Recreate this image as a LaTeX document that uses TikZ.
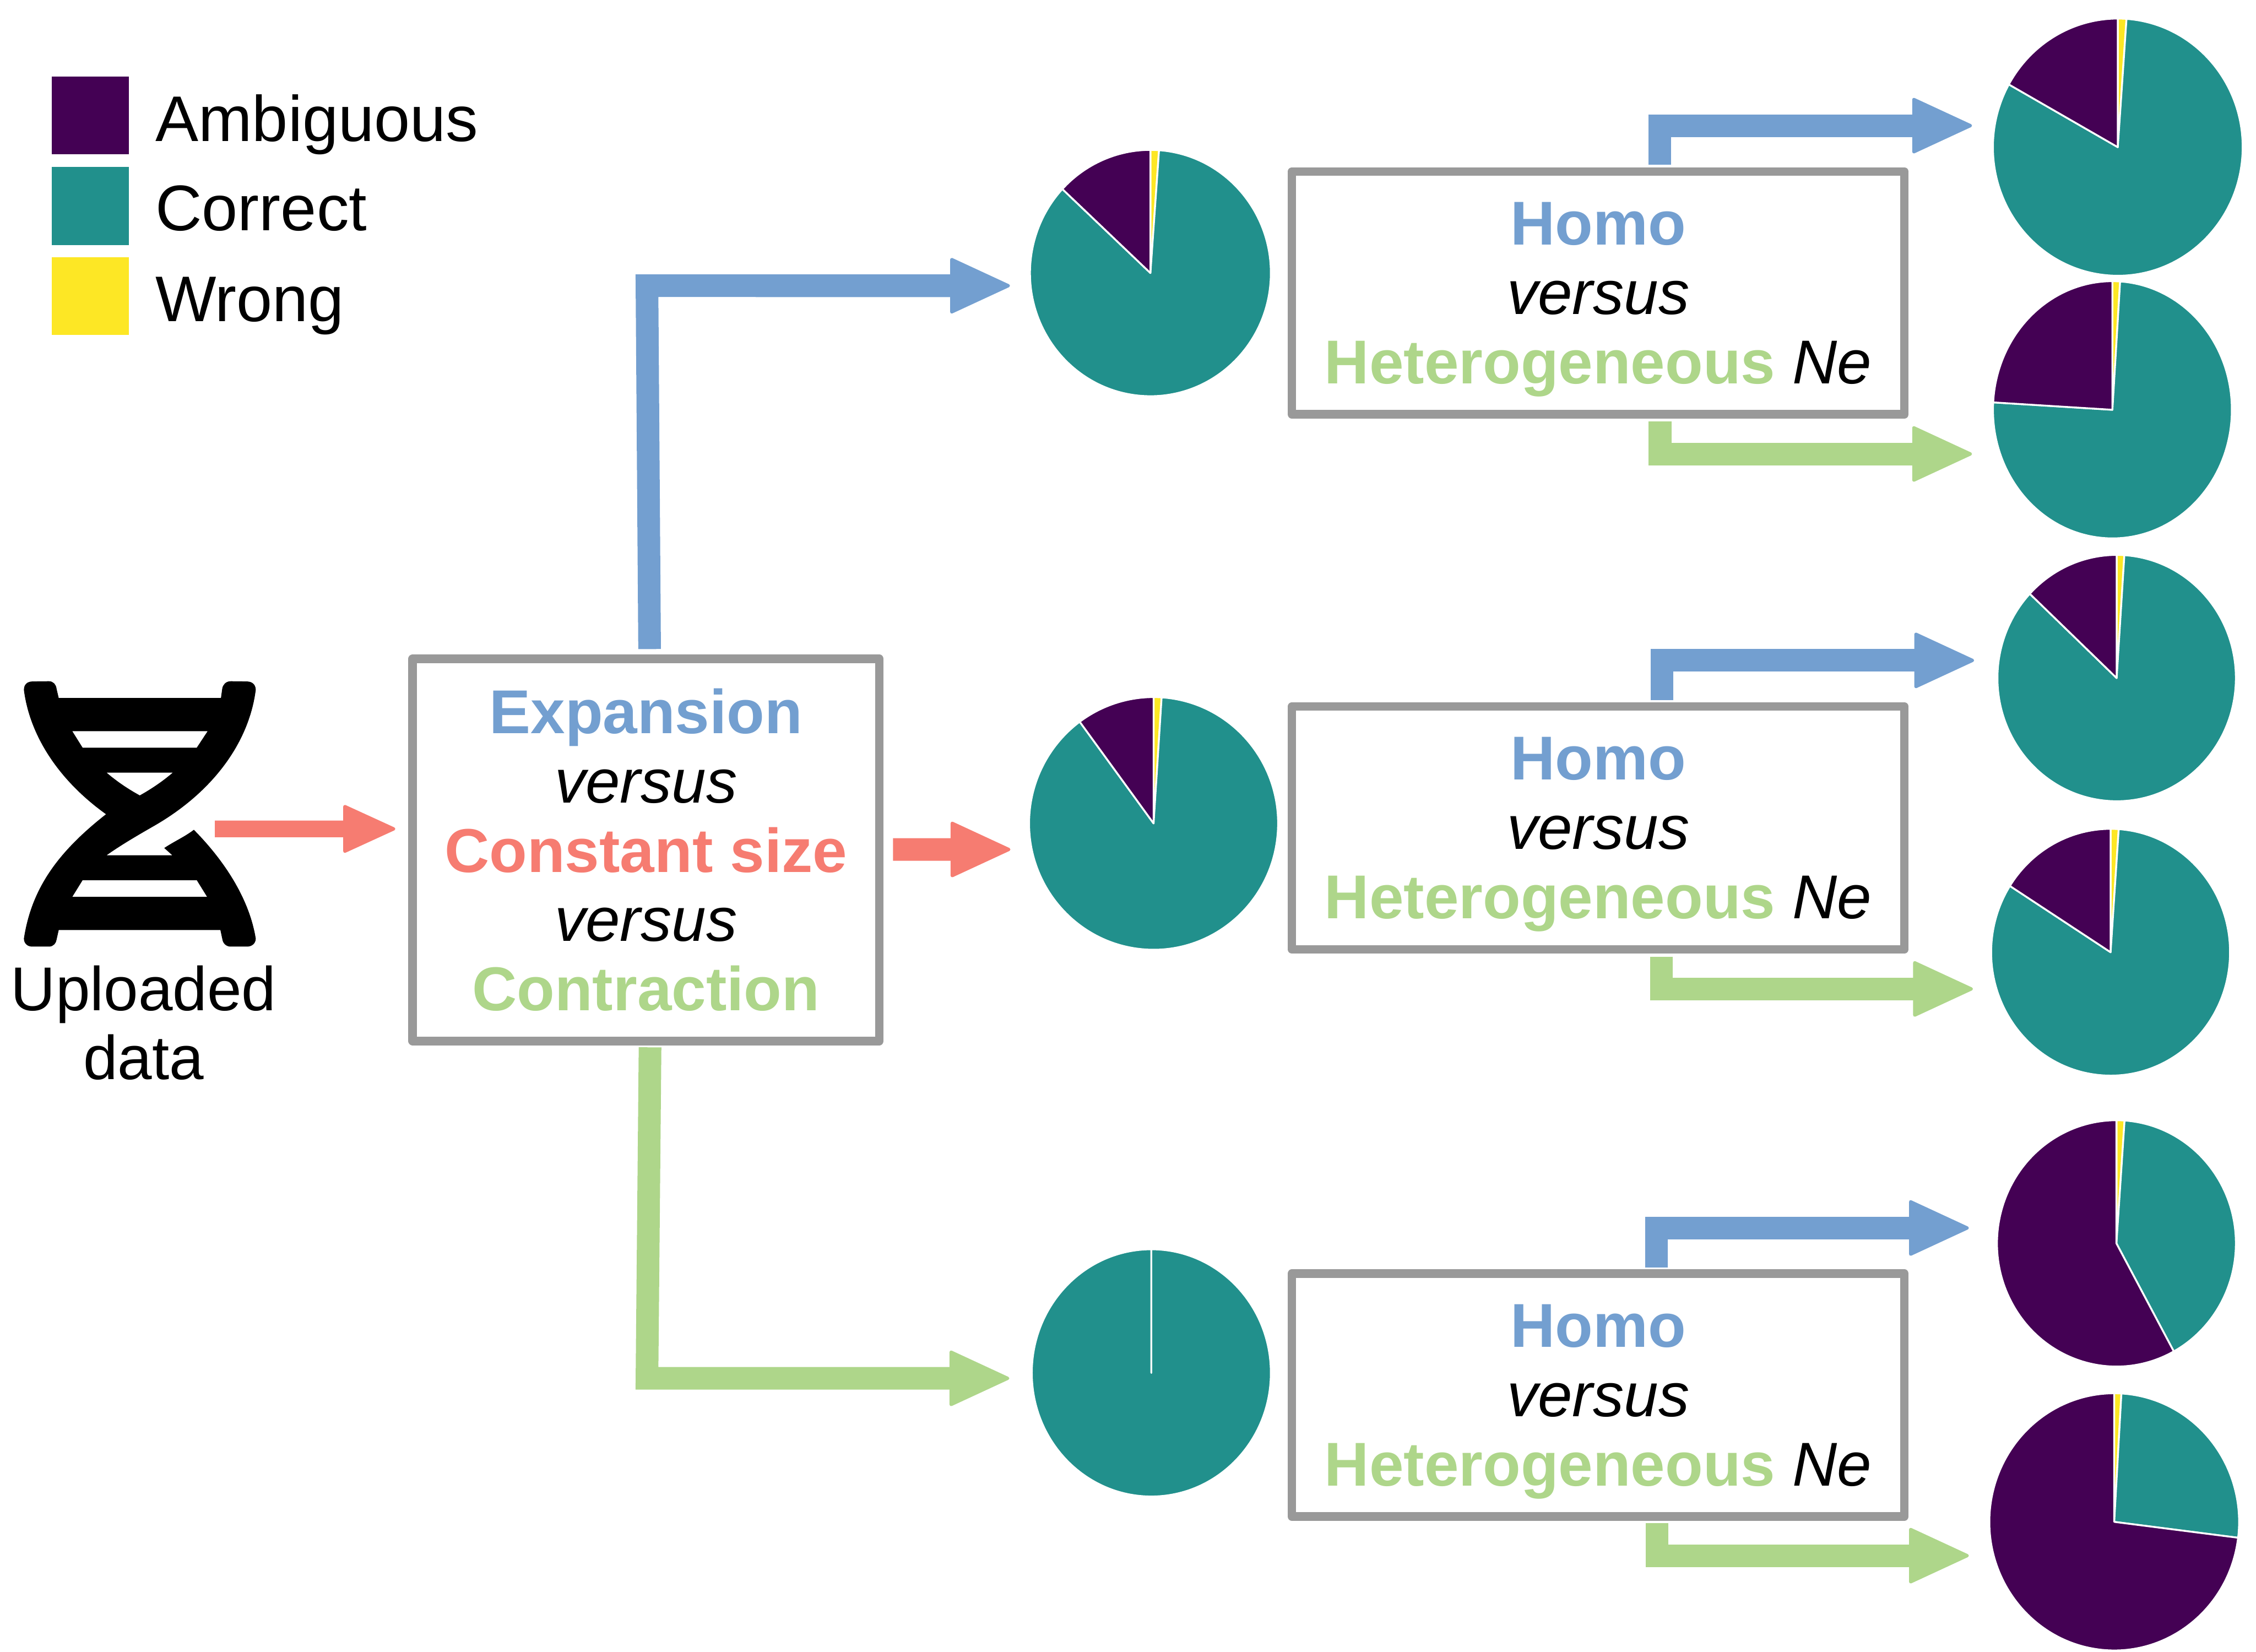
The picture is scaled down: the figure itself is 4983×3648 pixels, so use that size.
\documentclass[tikz,border=0pt]{standalone}
\usepackage{fontspec}
\setmainfont{Liberation Sans}
\usetikzlibrary{shapes.geometric,arrows.meta,positioning,calc}

\definecolor{ambiguous}{HTML}{440154}
\definecolor{correct}{HTML}{21908C}
\definecolor{wrong}{HTML}{FDE725}
\definecolor{expblue}{HTML}{739FD0}
\definecolor{conred}{HTML}{F67C71}
\definecolor{ctrgreen}{HTML}{AED68A}
\definecolor{boxgray}{HTML}{999999}

\tikzset{
  boxtext/.style={font=\fontsize{38.9}{43.5}\selectfont, align=center, inner sep=0pt, outer sep=0pt},
  keytext/.style={font=\fontsize{40.5}{45}\selectfont, inner sep=0pt, outer sep=0pt, anchor=base west},
  testbox/.style={draw=boxgray, line width=.19cm, line join=round, minimum height=5.36cm, minimum width=13.52cm},
  swatch/.style={inner sep=0pt, outer sep=0pt, minimum width=1.705cm, minimum height=1.72cm},
  piebase/.style={ellipse, inner sep=0pt, outer sep=0pt},
  slice/.style={draw=white, line width=.04cm, line join=round},
  branch/.style={line width=.5cm, line join=miter, -{Triangle[length=1.37cm,width=1.25cm,line width=.07cm,round]}},
  smallbranch/.style={line width=.37cm, -{Triangle[length=1.2cm,width=1.08cm,line width=.07cm,round]}}
}

\begin{document}
\begin{tikzpicture}[x=.01cm,y=-.01cm]
  \useasboundingbox (0,0) rectangle (4983,3648);

  % Legend
  \foreach \name/\y/\base/\col/\txt in {amb/255/311.6/ambiguous/Ambiguous, cor/455/509/correct/Correct, wro/654/709.4/wrong/Wrong}{
    \node[swatch, fill=\col] (key\name) at (199.5,\y) {};
    \node[keytext] (keytext\name) at (343.5,\base) {\txt};
  }

  % Helix icon
  \fill[black, even odd rule] (52.8,1523.7) .. controls (52.8,1512) and (60,1505) .. (71.8,1505)
    -- (108,1504.5) .. controls (118,1504.5) and (124,1512) .. (125,1521.4) -- (129.7,1541.5) -- (488,1541.5) -- (490.8,1521.4)
    .. controls (492,1512) and (499,1504.5) .. (509.8,1504.5) -- (545.3,1505) .. controls (557,1505) and (564.9,1512) .. (564.9,1523.7)
    .. controls (550,1640) and (470,1750) .. (338.6,1825) .. controls (295,1850) and (265,1868) .. (235.4,1888.8)
    -- (380.6,1888.8) -- (362.8,1872.8) .. controls (385,1858) and (408,1848) .. (428.2,1832.6)
    .. controls (490,1895) and (550,1980) .. (564.9,2072.8) .. controls (564.9,2083) and (557,2090.6) .. (545.3,2090.6) -- (509.8,2090.6)
    .. controls (499,2090.6) and (492,2083) .. (490.8,2072.8) -- (486.8,2054) -- (129.7,2054) -- (125,2075)
    .. controls (124,2083) and (118,2090.6) .. (108,2090.6) -- (71.8,2090.6) .. controls (60,2090.6) and (52.8,2083) .. (52.8,2072.8)
    .. controls (70,1960) and (130,1880) .. (234.2,1798.2) .. controls (125,1720) and (65,1620) .. (52.8,1523.7) -- cycle
    (159.6,1614.7) -- (458.7,1614.7) -- (434.6,1651.3) -- (182.5,1651.3) -- cycle
    (235.4,1706.3) -- (381.7,1706.3) .. controls (360,1725) and (335,1742) .. (308.8,1756.7) .. controls (282,1742) and (257,1725) .. (235.4,1706.3) -- cycle
    (182.5,1943.8) -- (434.6,1943.8) -- (457.5,1980.8) -- (159.6,1980.8) -- cycle;
  \coordinate (helix) at (474.7,1830.6);
  \node[boxtext] (upload) at (317,2259) {Uploaded\\data};

  % Model choice
  \node[testbox, boxtext, minimum width=10.3cm, minimum height=8.435cm] (model) at (1426.8,1877) {\textcolor{expblue}{\textbf{Expansion}}\\\textit{versus}\\\textcolor{conred}{\textbf{Constant size}}\\\textit{versus}\\\textcolor{ctrgreen}{\textbf{Contraction}}};

  % Ne choice
  \foreach \name/\y in {homoexp/647, homocon/1828.5, homoctr/3081}{
    \node[testbox, boxtext] (\name) at (3530,\y) {\textcolor{expblue}{\textbf{Homo}}\\\textit{versus}\\\smash{\textcolor{ctrgreen}{\textbf{Heterogeneous}} \textit{Ne}}};
  }

  % Pies
  \foreach \name/\cx/\cy/\rx/\ry/\wro/\cor in {
      pieexp/2541/603/266/272/274.1/583,
      piecon/2548/1818.5/275/279/273.7/593.6,
      piectr/2543/3032/264/273/270/630,
      exphomo/4677.7/325/275.8/284/274/569.2,
      exphet/4665.8/905/263.8/284/273.7/543.3,
      conhomo/4675.2/1497.5/263.3/272/273.7/583.2,
      conhet/4661.8/2103/263.8/272.5/273.9/572.5,
      ctrhomo/4674.7/2746/263.8/272/273.9/421.3,
      ctrhet/4669.8/3361/275.8/284/273.3/367.1}{
    \node[piebase, minimum width=\rx*.02cm, minimum height=\ry*.02cm] (\name) at (\cx,\cy) {};
    \filldraw[slice, fill=wrong] (\cx,\cy) -- ++(270:{\rx} and {\ry}) arc[start angle=270, end angle=\wro, x radius=\rx, y radius=\ry] -- cycle;
    \filldraw[slice, fill=correct] (\cx,\cy) -- ++(\wro:{\rx} and {\ry}) arc[start angle=\wro, end angle=\cor, x radius=\rx, y radius=\ry] -- cycle;
    \filldraw[slice, fill=ambiguous] (\cx,\cy) -- ++(\cor:{\rx} and {\ry}) arc[start angle=\cor, end angle=630, x radius=\rx, y radius=\ry] -- cycle;
  }

  % First step
  \draw[smallbranch, conred] (helix) -- ([xshift=-.383cm,yshift=.464cm]model.west);
  \draw[branch, expblue] ([xshift=.08cm,yshift=.215cm]model.north) -- (1429,631) -- ([xshift=-.44cm,yshift=-.28cm]pieexp.west);
  \draw[branch, conred] ([xshift=.304cm,yshift=.01cm]model.east) -- ([xshift=-.41cm,yshift=-.575cm]piecon.west);
  \draw[branch, ctrgreen] ([xshift=.09cm,yshift=-.14cm]model.south) -- (1429,3044) -- ([xshift=-.494cm,yshift=-.12cm]piectr.west);

  % Second step
  \draw[branch, expblue] ([xshift=1.36cm,yshift=.15cm]homoexp.north) |- ([xshift=-.459cm,yshift=.475cm]exphomo.west);
  \draw[branch, ctrgreen] ([xshift=1.365cm,yshift=-.16cm]homoexp.south) |- ([xshift=-.46cm,yshift=-.975cm]exphet.west);
  \draw[branch, expblue] ([xshift=1.405cm,yshift=.14cm]homocon.north) |- ([xshift=-.513cm,yshift=.39cm]conhomo.west);
  \draw[branch, ctrgreen] ([xshift=1.395cm,yshift=-.16cm]homocon.south) |- ([xshift=-.4cm,yshift=-.81cm]conhet.west);
  \draw[branch, expblue] ([xshift=1.285cm,yshift=.14cm]homoctr.north) |- ([xshift=-.619cm,yshift=.34cm]ctrhomo.west);
  \draw[branch, ctrgreen] ([xshift=1.295cm,yshift=-.145cm]homoctr.south) |- ([xshift=-.45cm,yshift=-.746cm]ctrhet.west);
\end{tikzpicture}
\end{document}
